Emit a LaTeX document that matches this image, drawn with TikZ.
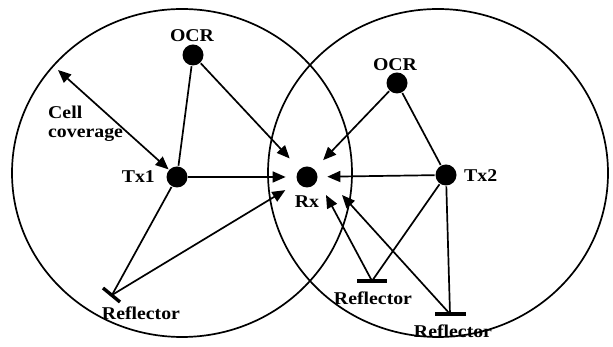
\documentclass[tikz,border=0pt]{standalone}
\usepackage{fontspec}
\setmainfont{Liberation Serif}
\newfontfamily\labfont[FakeStretch=1.1]{Liberation Serif}
\usepackage{tikz}
\usetikzlibrary{calc,positioning,arrows.meta}
\newcommand{\Lab}{\labfont\fontsize{18}{19}\selectfont\bfseries}

\begin{document}
\begin{tikzpicture}[x=1pt,y=1pt, font=\Lab, line width=1.7pt,
    dot/.style={circle,fill=black,minimum size=21pt,inner sep=0pt},
    ray/.style={-{Triangle[length=13pt,width=11pt]}},
    bar/.style={line width=3.4pt}]
  \useasboundingbox (0,0) rectangle (613,347);
  % cells
  \draw (182,174) ellipse [x radius=170, y radius=164];
  \draw (438,174) ellipse [x radius=170, y radius=164];
  % stations
  \node[dot] (ocrA) at (193,292) {};
  \node[dot] (txA) at (177,170) {};
  \node[dot] (rx) at (307,170) {};
  \node[dot] (ocrB) at (397,264) {};
  \node[dot] (txB) at (446,172) {};
  \node at (192,311) {OCR};
  \node[anchor=east] at (159,170) {Tx1};
  \node at (307,145) {Rx};
  \node at (395,282) {OCR};
  \node[anchor=west] at (460,171) {Tx2};
  % reflectors
  \coordinate (refA) at (112,52);
  \coordinate (refB) at (372,66);
  \coordinate (refC) at (450,33);
  \draw[bar] ($(refA)+(-9,7)$) -- ($(refA)+(8,-7)$);
  \draw[bar] ($(refB)+(-15,0)$) -- ($(refB)+(15,0)$);
  \draw[bar] ($(refC)+(-15,0)$) -- ($(refC)+(16,0)$);
  \node at (141,34) {Reflector};
  \node at (373,49) {Reflector};
  \node at (453,16) {Reflector};
  % cell coverage
  \coordinate (rim) at (58,277);
  \draw[{Triangle[length=13pt,width=11pt]}-{Triangle[length=13pt,width=11pt]}] (rim) -- (txA);
  \node[anchor=west,align=left] at (44,223) {Cell\\coverage};
  % links
  \draw (txA) -- (ocrA);
  \draw (txA) -- (refA);
  \draw (txB) -- (ocrB);
  \draw (txB) -- (refB);
  \draw (txB) -- (refC);
  \coordinate (rxB) at (326,152);
  \coordinate (rxC) at (342,152);
  \draw[ray,shorten >=14pt] (ocrA) -- (rx);
  \draw[ray,shorten >=10pt] (txA) -- (rx);
  \draw[ray,shorten >=14pt] (refA) -- (rx);
  \draw[ray,shorten >=12pt] (ocrB) -- (rx);
  \draw[ray,shorten >=9pt] (txB) -- (rx);
  \draw[ray] (refB) -- (rxB);
  \draw[ray] (refC) -- (rxC);
\end{tikzpicture}
\end{document}
